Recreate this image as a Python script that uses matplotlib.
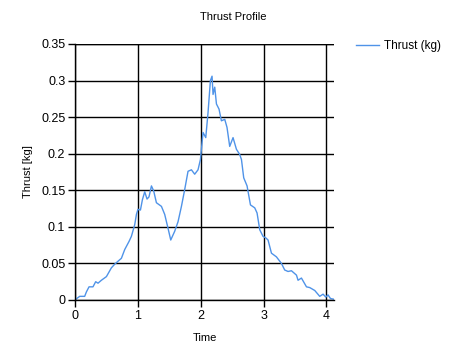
import matplotlib
matplotlib.use("Agg")
import matplotlib.pyplot as plt

time = [0.011, 0.075, 0.154, 0.181, 0.223, 0.286, 0.329, 0.366, 0.420, 0.500,
        0.579, 0.632, 0.684, 0.738, 0.791, 0.859, 0.897, 0.950, 0.977, 1.002,
        1.041, 1.072, 1.109, 1.146, 1.177, 1.216, 1.252, 1.295, 1.375, 1.427,
        1.480, 1.523, 1.586, 1.639, 1.693, 1.745, 1.798, 1.852, 1.904, 1.957,
        1.995, 2.005, 2.037, 2.080, 2.116, 2.154, 2.180, 2.196, 2.223, 2.250,
        2.291, 2.329, 2.382, 2.418, 2.461, 2.514, 2.568, 2.620, 2.648, 2.684,
        2.737, 2.791, 2.859, 2.896, 2.939, 2.991, 3.034, 3.071, 3.125, 3.204,
        3.284, 3.336, 3.389, 3.443, 3.523, 3.548, 3.602, 3.682, 3.734, 3.814,
        3.893, 3.946, 3.989, 4.025, 4.064, 4.121]
thrust = [0.001, 0.005, 0.005, 0.011, 0.018, 0.018, 0.025, 0.023, 0.027, 0.032,
          0.044, 0.049, 0.053, 0.057, 0.069, 0.080, 0.087, 0.103, 0.117, 0.124,
          0.123, 0.137, 0.148, 0.138, 0.141, 0.156, 0.149, 0.133, 0.128, 0.117,
          0.098, 0.082, 0.094, 0.107, 0.128, 0.151, 0.176, 0.178, 0.172, 0.178,
          0.192, 0.201, 0.229, 0.222, 0.256, 0.300, 0.306, 0.281, 0.291, 0.268,
          0.261, 0.245, 0.247, 0.236, 0.210, 0.222, 0.206, 0.199, 0.192, 0.167,
          0.156, 0.130, 0.126, 0.119, 0.096, 0.087, 0.085, 0.082, 0.064, 0.059,
          0.050, 0.041, 0.039, 0.040, 0.034, 0.027, 0.030, 0.018, 0.017, 0.013,
          0.005, 0.008, 0.004, 0.007, 0.002, 0.001]
x_ticks = [0, 1, 2, 3, 4]
y_ticks = [0, 0.05, 0.1, 0.15, 0.2, 0.25, 0.3, 0.35]
y_tick_labels = ["0", "0.05", "0.1", "0.15", "0.2", "0.25", "0.3", "0.35"]

plt.rcParams['font.family'] = ['Liberation Sans', 'DejaVu Sans']

fig = plt.figure(figsize=(4.67, 3.57), dpi=100)
ax = fig.add_axes([75/467, 1-300/357, (334-75)/467, (300-44)/357])

line, = ax.plot(time, thrust, color="#4f93e8", lw=1.0, label="Thrust (kg)")

ax.set_xlim(0, 4.12)
ax.set_ylim(0, 0.35)
ax.set_xticks(x_ticks)
ax.set_xticklabels([str(t) for t in x_ticks])
ax.set_yticks(y_ticks)
ax.set_yticklabels(y_tick_labels)
ax.grid(True, color="black", lw=1.0)
ax.set_axisbelow(True)
for s in ["top", "right"]:
    ax.spines[s].set_visible(False)
for s in ["left", "bottom"]:
    ax.spines[s].set_linewidth(1.0)
ax.tick_params(direction="out", length=5, width=1.0, labelsize=9, pad=2)
ax.axhline(0.35, color="black", lw=1.0, zorder=0.5)

ax.set_xlabel("Time", fontsize=8, labelpad=8)
ax.set_ylabel("Thrust [kg]", fontsize=8, labelpad=6)

fig.text(0.5, 1-17/357, "Thrust Profile", ha="center", va="center", fontsize=8)

fig.legend(handles=[line], loc="center left", bbox_to_anchor=(345/467, 1-46/357),
           frameon=False, fontsize=8.5, handlelength=2.0, handletextpad=0.4)

fig.savefig("out.png", dpi=100)
